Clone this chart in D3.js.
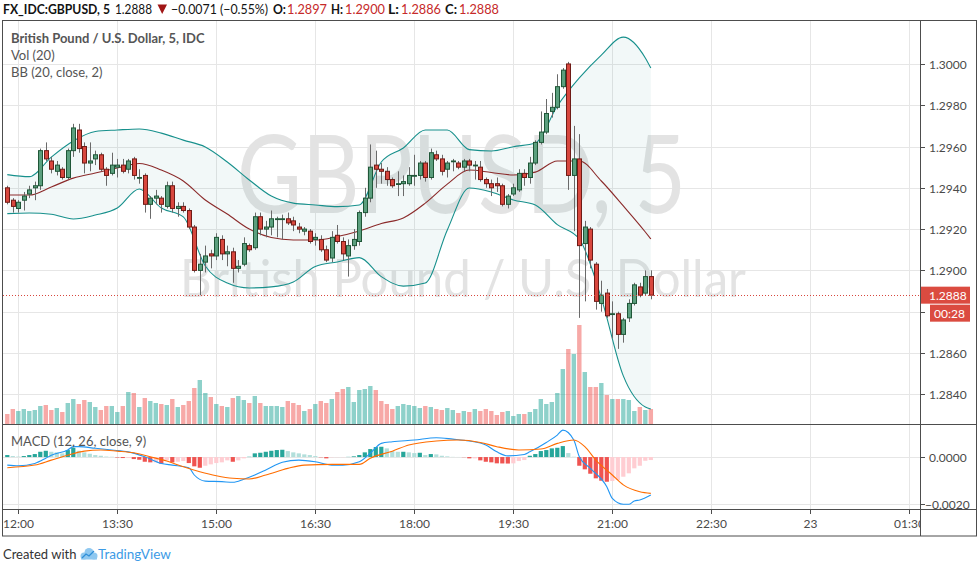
<!DOCTYPE html>
<html><head><meta charset="utf-8">
<script src="https://cdn.jsdelivr.net/npm/d3@7"></script>
<style>
html,body{margin:0;padding:0;background:#fff;}
svg{display:block;font-family:Lato,"Open Sans",sans-serif;}
</style></head><body>
<svg id="c" width="980" height="571"></svg>
<script>
// ---------------- DATA (5-minute bars, first bar 11:50) ----------------
const startMinute = -10;   // minutes relative to 12:00 of first bar
const barMinutes = 5;
const open = [1.2940,1.2934,1.2930,1.2934,1.2937,1.2940,1.2941,1.2958,1.2953,1.2948,1.2949,1.2945,1.2958,1.2968,1.2960,1.2952,1.2954,1.2956,1.2949,1.2947,1.2950,1.2951,1.2949,1.2954,1.2945,1.2946,1.2932,1.2935,1.2935,1.2931,1.2941,1.2930,1.2931,1.2929,1.2921,1.2900,1.2904,1.2908,1.2907,1.2915,1.2908,1.2909,1.2901,1.2903,1.2912,1.2911,1.2926,1.2920,1.2921,1.2925,1.2925,1.2925,1.2924,1.2921,1.2919,1.2919,1.2915,1.2915,1.2910,1.2906,1.2917,1.2914,1.2907,1.2912,1.2914,1.2928,1.2935,1.2951,1.2949,1.2948,1.2944,1.2942,1.2942,1.2942,1.2946,1.2946,1.2952,1.2945,1.2956,1.2954,1.2949,1.2953,1.2952,1.2950,1.2953,1.2951,1.2950,1.2944,1.2942,1.2942,1.2941,1.2932,1.2937,1.2939,1.2947,1.2945,1.2952,1.2962,1.2967,1.2977,1.2979,1.2989,1.3000,1.2946,1.2954,1.2913,1.2920,1.2903,1.2884,1.2889,1.2879,1.2879,1.2869,1.2877,1.2884,1.2892,1.2889,1.2897];
const high = [1.2941,1.2935,1.2934,1.2938,1.2941,1.2943,1.2959,1.2962,1.2955,1.2953,1.2950,1.2959,1.2971,1.2971,1.2962,1.2962,1.2958,1.2957,1.2950,1.2957,1.2954,1.2954,1.2954,1.2955,1.2949,1.2947,1.2936,1.2939,1.2936,1.2943,1.2943,1.2933,1.2933,1.2930,1.2922,1.2908,1.2912,1.2910,1.2918,1.2917,1.2912,1.2911,1.2905,1.2916,1.2913,1.2928,1.2928,1.2924,1.2929,1.2926,1.2927,1.2928,1.2926,1.2923,1.2921,1.2920,1.2918,1.2917,1.2912,1.2919,1.2922,1.2916,1.2915,1.2920,1.2929,1.2940,1.2961,1.2958,1.2952,1.2950,1.2945,1.2948,1.2946,1.2950,1.2956,1.2953,1.2953,1.2959,1.2958,1.2956,1.2953,1.2954,1.2953,1.2954,1.2954,1.2953,1.2953,1.2945,1.2944,1.2945,1.2942,1.2937,1.2942,1.2949,1.2949,1.2955,1.2963,1.2977,1.2983,1.2986,1.2995,1.2998,1.3001,1.2970,1.2966,1.2924,1.2921,1.2904,1.2895,1.2891,1.2885,1.2880,1.2877,1.2886,1.2894,1.2894,1.2900,1.2900];
const low = [1.2932,1.2928,1.2928,1.2929,1.2935,1.2934,1.2939,1.2953,1.2947,1.2946,1.2944,1.2944,1.2955,1.2957,1.2947,1.2948,1.2951,1.2948,1.2941,1.2946,1.2945,1.2947,1.2947,1.2944,1.2942,1.2928,1.2925,1.2932,1.2928,1.2930,1.2928,1.2926,1.2928,1.2920,1.2899,1.2888,1.2899,1.2901,1.2905,1.2905,1.2902,1.2894,1.2899,1.2902,1.2909,1.2910,1.2917,1.2916,1.2917,1.2916,1.2915,1.2922,1.2919,1.2918,1.2917,1.2913,1.2912,1.2909,1.2904,1.2904,1.2913,1.2905,1.2897,1.2910,1.2912,1.2926,1.2933,1.2940,1.2942,1.2941,1.2940,1.2936,1.2936,1.2941,1.2941,1.2944,1.2943,1.2944,1.2953,1.2946,1.2945,1.2948,1.2949,1.2948,1.2948,1.2944,1.2943,1.2940,1.2936,1.2938,1.2931,1.2930,1.2936,1.2938,1.2941,1.2942,1.2951,1.2961,1.2966,1.2974,1.2978,1.2988,1.2939,1.2919,1.2877,1.2885,1.2901,1.2881,1.2880,1.2877,1.2867,1.2862,1.2865,1.2875,1.2883,1.2887,1.2888,1.2886];
const close = [1.2933,1.2931,1.2933,1.2936,1.2939,1.2941,1.2958,1.2954,1.2949,1.2951,1.2945,1.2958,1.2969,1.2959,1.2952,1.2953,1.2956,1.2949,1.2946,1.2951,1.2951,1.2948,1.2953,1.2946,1.2945,1.2932,1.2935,1.2936,1.2932,1.2941,1.2930,1.2931,1.2929,1.2921,1.2900,1.2903,1.2907,1.2907,1.2916,1.2908,1.2909,1.2901,1.2902,1.2913,1.2910,1.2926,1.2920,1.2921,1.2925,1.2925,1.2925,1.2923,1.2922,1.2920,1.2920,1.2914,1.2916,1.2910,1.2905,1.2916,1.2914,1.2908,1.2912,1.2915,1.2928,1.2935,1.2950,1.2949,1.2948,1.2944,1.2941,1.2942,1.2943,1.2946,1.2946,1.2952,1.2945,1.2957,1.2954,1.2948,1.2952,1.2953,1.2950,1.2953,1.2951,1.2951,1.2944,1.2942,1.2940,1.2941,1.2932,1.2936,1.2940,1.2947,1.2945,1.2952,1.2962,1.2967,1.2976,1.2979,1.2989,1.2997,1.2946,1.2954,1.2912,1.2921,1.2905,1.2885,1.2888,1.2878,1.2879,1.2869,1.2876,1.2884,1.2893,1.2888,1.2897,1.2888];
const volume = [10,15,13,15,13,14,18,19,14,16,12,21,25,20,24,22,17,14,18,18,12,18,32,31,17,26,23,21,20,19,25,17,19,23,36,44,31,27,20,18,17,26,28,24,21,28,21,18,18,18,17,23,21,19,13,15,20,23,21,25,32,35,37,22,34,35,38,34,23,20,15,18,20,19,18,16,18,17,15,14,16,14,11,13,12,15,13,15,13,9,12,13,8,10,10,12,15,25,20,22,31,55,75,70,99,52,37,37,41,29,25,25,25,24,13,17,14,15];
const macdHist = [0.000085,0.000042,0.000021,0.000042,0.000085,0.000127,0.000224,0.000266,0.000224,0.000199,0.000157,0.000296,0.000393,0.000266,0.000199,0.000140,0.000085,0.000055,0.000021,0.000013,-0.000021,-0.000042,-0.000042,-0.000085,-0.000114,-0.000199,-0.000224,-0.000224,-0.000283,-0.000140,-0.000224,-0.000199,-0.000169,-0.000254,-0.000393,-0.000453,-0.000368,-0.000309,-0.000254,-0.000224,-0.000140,-0.000199,-0.000140,-0.000055,0.000013,0.000157,0.000182,0.000224,0.000266,0.000296,0.000309,0.000254,0.000199,0.000157,0.000114,0.000085,0.000042,-0.000013,-0.000055,-0.000013,-0.000008,-0.000008,0.000008,0.000030,0.000085,0.000199,0.000338,0.000423,0.000436,0.000368,0.000254,0.000224,0.000224,0.000199,0.000169,0.000182,0.000085,0.000127,0.000114,0.000055,0.000030,0.000008,0.000004,-0.000008,-0.000055,-0.000055,-0.000140,-0.000199,-0.000224,-0.000266,-0.000271,-0.000275,-0.000266,-0.000169,-0.000127,0.000055,0.000127,0.000254,0.000296,0.000368,0.000393,0.000465,0.000169,0.000013,-0.000368,-0.000520,-0.000706,-0.000901,-0.001003,-0.001045,-0.001015,-0.000973,-0.000833,-0.000689,-0.000478,-0.000368,-0.000157,-0.000127];
// Bollinger Bands (20, close, 2) read at sampled bars (bar index from 12:00)
const bbBar = [-2,2,6,10,14,18,22,26,30,34,38,42,46,50,54,58,62,66,70,74,78,82,86,90,94,98,102,106,110,114,115];
const bbUpper = [1.29464,1.29454,1.29549,1.29627,1.29673,1.29680,1.29685,1.29665,1.29631,1.29598,1.29525,1.29438,1.29360,1.29326,1.29317,1.29309,1.29317,1.29525,1.29593,1.29680,1.29680,1.29585,1.29578,1.29599,1.29617,1.29796,1.29932,1.30043,1.30130,1.30029,1.29980];
const bbBasis = [1.29365,1.29365,1.29404,1.29447,1.29472,1.29496,1.29518,1.29486,1.29433,1.29341,1.29273,1.29200,1.29159,1.29147,1.29147,1.29164,1.29191,1.29227,1.29254,1.29326,1.29418,1.29486,1.29474,1.29462,1.29476,1.29530,1.29530,1.29433,1.29312,1.29186,1.29152];
const bbLower = [1.29275,1.29278,1.29272,1.29249,1.29268,1.29302,1.29394,1.29302,1.29259,1.29021,1.28939,1.28915,1.28920,1.28944,1.29019,1.29041,1.29062,1.28970,1.28924,1.28939,1.29196,1.29399,1.29380,1.29341,1.29317,1.29222,1.29152,1.28866,1.28489,1.28338,1.28329];
// MACD (12, 26, close, 9) lines read at sampled bars
const macdBar = [-2,0,3,5,6,9,10,11,14,17,20,23,26,28,31,32,34,37,39,41,43,45,48,51,54,57,59,62,64,66,68,72,76,79,82,85,87,89,92,93,96,98,99,101,102,104,107,108,110,111,112,113,115];
const macdLine = [-0.00034,-0.00037,-0.00027,-0.00005,0.00008,0.00030,0.00044,0.00044,0.00037,0.00030,0.00022,0.00001,-0.00027,-0.00034,-0.00045,-0.00076,-0.00102,-0.00104,-0.00107,-0.00094,-0.00076,-0.00055,-0.00022,-0.00013,-0.00020,-0.00034,-0.00034,-0.00020,0.00016,0.00058,0.00065,0.00072,0.00082,0.00076,0.00068,0.00051,0.00022,0.00005,0.00011,0.00022,0.00062,0.00093,0.00114,0.00072,0.00001,-0.00048,-0.00126,-0.00175,-0.00200,-0.00200,-0.00186,-0.00182,-0.00161];
const signalBar = [-2,3,6,9,12,15,18,21,24,27,30,33,36,39,42,45,49,52,57,62,64,68,71,76,80,84,87,91,95,98,101,103,105,108,110,113,115];
const signalLine = [-0.00045,-0.00034,-0.00013,0.00008,0.00025,0.00030,0.00025,0.00018,0.00001,-0.00017,-0.00041,-0.00062,-0.00079,-0.00090,-0.00093,-0.00076,-0.00048,-0.00034,-0.00031,-0.00031,-0.00005,0.00025,0.00051,0.00068,0.00072,0.00062,0.00044,0.00030,0.00034,0.00058,0.00072,0.00044,-0.00013,-0.00076,-0.00118,-0.00147,-0.00154];
// axes
const priceTicks = [1.2840,1.2860,1.2880,1.2900,1.2920,1.2940,1.2960,1.2980,1.3000];
const macdTicks = [0, -0.002];
const timeTickMinutes = [0,90,180,270,360,450,540,630,720,810];
const timeTickLabels = ["12:00","13:30","15:00","16:30","18:00","19:30","21:00","22:30","23","01:30"];
const lastPrice = 1.2888;
const countdown = "00:28";

// ---------------- LAYOUT ----------------
const L = 3, R = 920, AR = 976.5, T = 21, MB = 424, DB = 509, XB = 536;
const svg = d3.select("#c");
const x = d3.scaleLinear().domain([-13.9, 819.7]).range([L, R]);
const y = d3.scaleLinear().domain([1.28256, 1.30208]).range([MB, T]);
const yV = d3.scaleLinear().domain([0, 100]).range([MB, MB - 100]);
const yM = d3.scaleLinear().domain([-0.0022, 0.0014]).range([DB, MB]);
const barMin = k => startMinute + k * barMinutes;       // k = array index
const idxMin = b => b * barMinutes;                    // b = bar index from 12:00

const defs = svg.append("defs");
defs.append("clipPath").attr("id","cm").append("rect").attr("x",L).attr("y",T).attr("width",R-L).attr("height",MB-T);
defs.append("clipPath").attr("id","cd").append("rect").attr("x",L).attr("y",MB).attr("width",R-L).attr("height",DB-MB);
defs.append("clipPath").attr("id","ct").append("rect").attr("x",L).attr("y",DB).attr("width",R-L).attr("height",XB-DB);

const gridC = "#e6e6e6";
const gm = svg.append("g").attr("clip-path","url(#cm)");
const gd = svg.append("g").attr("clip-path","url(#cd)");
timeTickMinutes.forEach(m=>{
  const xx = Math.round(x(m))+0.5;
  gm.append("line").attr("x1",xx).attr("x2",xx).attr("y1",T).attr("y2",MB).attr("stroke",gridC);
  gd.append("line").attr("x1",xx).attr("x2",xx).attr("y1",MB).attr("y2",DB).attr("stroke",gridC);
});
priceTicks.forEach(p=>{
  const yy = Math.round(y(p))+0.5;
  gm.append("line").attr("x1",L).attr("x2",R).attr("y1",yy).attr("y2",yy).attr("stroke",gridC);
});
macdTicks.forEach(v=>{
  const yy = Math.round(yM(v))+0.5;
  gd.append("line").attr("x1",L).attr("x2",R).attr("y1",yy).attr("y2",yy).attr("stroke",gridC);
});

// watermark
gm.append("text").attr("x",237).attr("y",213).attr("font-size",108).attr("fill","#e3e3e3")
  .attr("textLength",449).attr("lengthAdjust","spacingAndGlyphs").text("GBPUSD, 5");
gm.append("text").attr("x",180).attr("y",297).attr("font-size",52).attr("fill","#e3e3e3")
  .attr("textLength",566).attr("lengthAdjust","spacingAndGlyphs").text("British Pound / U.S. Dollar");

// BB fill
const bbPts = bbBar.map((b,k)=>({b, u:bbUpper[k], m:bbBasis[k], l:bbLower[k]}));
gm.append("path").datum(bbPts)
  .attr("d", d3.area().x(d=>x(idxMin(d.b))).y0(d=>y(d.l)).y1(d=>y(d.u)).curve(d3.curveMonotoneX))
  .attr("fill","rgba(19,132,132,0.055)");

// volume
const bars = open.map((o,k)=>({k, o, h:high[k], l:low[k], c:close[k], v:volume[k], hist:macdHist[k], up: close[k] >= o}));
gm.selectAll("rect.vol").data(bars).enter().append("rect").attr("class","vol")
  .attr("x", d=>x(barMin(d.k))-2.2).attr("width",4.4)
  .attr("y", d=>yV(d.v)).attr("height", d=>MB - yV(d.v))
  .attr("fill", d=> d.up ? "rgba(38,166,154,0.52)" : "rgba(239,83,80,0.5)");

// BB lines
const lineOf = f => d3.line().x(d=>x(idxMin(d.b))).y(d=>y(f(d))).curve(d3.curveMonotoneX);
gm.append("path").datum(bbPts).attr("d", lineOf(d=>d.u)).attr("fill","none").attr("stroke","#17908c").attr("stroke-width",1.1);
gm.append("path").datum(bbPts).attr("d", lineOf(d=>d.l)).attr("fill","none").attr("stroke","#17908c").attr("stroke-width",1.1);
gm.append("path").datum(bbPts).attr("d", lineOf(d=>d.m)).attr("fill","none").attr("stroke","#8b2a2a").attr("stroke-width",1.1);

// candles
const cg = gm.append("g");
cg.selectAll("line.w").data(bars).enter().append("line")
  .attr("x1", d=>Math.round(x(barMin(d.k)))+0.5).attr("x2", d=>Math.round(x(barMin(d.k)))+0.5)
  .attr("y1", d=>y(d.h)).attr("y2", d=>y(d.l)).attr("stroke","#6a6a6a").attr("stroke-width",1);
cg.selectAll("rect.b").data(bars).enter().append("rect")
  .attr("x", d=>Math.round(x(barMin(d.k)))-1.5).attr("width",4)
  .attr("y", d=>Math.min(y(d.o),y(d.c)))
  .attr("height", d=>Math.max(0.8, Math.abs(y(d.o)-y(d.c))))
  .attr("fill", d=> d.up ? "#5b9f7e" : "#d8473e")
  .attr("stroke", d=> d.up ? "#1f5637" : "#6e1b16").attr("stroke-width",1);

// last price dotted line
gm.append("line").attr("x1",L).attr("x2",R).attr("y1",Math.round(y(lastPrice))+0.5).attr("y2",Math.round(y(lastPrice))+0.5)
  .attr("stroke","#d8473e").attr("stroke-dasharray","1,2");

// MACD histogram
const histColor = (d,k)=>{
  const prev = k>0 ? macdHist[k-1] : d.hist;
  if (d.hist >= 0) return d.hist >= prev ? "#26a69a" : "#b2dfdb";
  return d.hist < prev ? "#ef5350" : "#ffcdd2";
};
gd.selectAll("rect.h").data(bars).enter().append("rect")
  .attr("x", d=>x(barMin(d.k))-2.1).attr("width",4.2)
  .attr("y", d=>Math.min(yM(0), yM(d.hist)))
  .attr("height", d=>Math.abs(yM(d.hist)-yM(0)))
  .attr("fill", histColor);
const mPts = macdBar.map((b,k)=>({b, v:macdLine[k]}));
const sPts = signalBar.map((b,k)=>({b, v:signalLine[k]}));
const ml = d3.line().x(d=>x(idxMin(d.b))).y(d=>yM(d.v)).curve(d3.curveMonotoneX);
gd.append("path").datum(mPts).attr("d", ml).attr("fill","none").attr("stroke","#2196f3").attr("stroke-width",1.1);
gd.append("path").datum(sPts).attr("d", ml).attr("fill","none").attr("stroke","#ff6d00").attr("stroke-width",1.1);

// frame
const frameC = "#4d4d4d";
svg.append("rect").attr("x",2.5).attr("y",T-0.5).attr("width",AR-2.5).attr("height",XB-T+0.5).attr("fill","none").attr("stroke",frameC);
svg.append("line").attr("x1",R+0.5).attr("x2",R+0.5).attr("y1",T).attr("y2",XB).attr("stroke",frameC);
svg.append("line").attr("x1",2.5).attr("x2",AR).attr("y1",MB+0.5).attr("y2",MB+0.5).attr("stroke",frameC);
svg.append("line").attr("x1",2.5).attr("x2",AR).attr("y1",DB+0.5).attr("y2",DB+0.5).attr("stroke",frameC);

// price axis (labels hidden where the last-price badges sit, as in TradingView)
const txtC = "#4a4a4a";
const ly = y(lastPrice);
priceTicks.forEach(p=>{
  const yy = Math.round(y(p))+0.5;
  svg.append("line").attr("x1",R).attr("x2",R+5).attr("y1",yy).attr("y2",yy).attr("stroke",frameC);
  if (Math.abs(yy - ly) > 30 || yy < ly - 12)
    svg.append("text").attr("x",929).attr("y",yy+4.5).attr("font-size",12).attr("fill",txtC).text(p.toFixed(4));
});
macdTicks.forEach(v=>{
  const yy = Math.round(yM(v))+0.5;
  svg.append("line").attr("x1",R).attr("x2",R+5).attr("y1",yy).attr("y2",yy).attr("stroke",frameC);
  svg.append("text").attr("x", v<0 ? 925 : 929).attr("y",yy+4.5).attr("font-size",12).attr("fill",txtC)
    .text(v<0 ? "\u2212" + Math.abs(v).toFixed(4) : v.toFixed(4));
});
// last price label + countdown
svg.append("rect").attr("x",R+1).attr("y",ly-8.5).attr("width",49).attr("height",17).attr("fill","#db4b40");
svg.append("text").attr("x",929).attr("y",ly+4.5).attr("font-size",12).attr("fill","#fff").text(lastPrice.toFixed(4));
svg.append("rect").attr("x",930).attr("y",ly+9.5).attr("width",40).attr("height",17).attr("fill","#db4b40");
svg.append("text").attr("x",934).attr("y",ly+22.5).attr("font-size",12).attr("fill","#fff").text(countdown);

// time axis
const gt = svg.append("g").attr("clip-path","url(#ct)");
timeTickMinutes.forEach((m,k)=>{
  const xx = Math.round(x(m))+0.5;
  gt.append("line").attr("x1",xx).attr("x2",xx).attr("y1",DB).attr("y2",DB+5).attr("stroke",frameC);
  gt.append("text").attr("x",xx).attr("y",528).attr("text-anchor","middle").attr("font-size",12).attr("fill",txtC).text(timeTickLabels[k]);
});

// legends
svg.append("text").attr("x",11).attr("y",43).attr("font-size",13).attr("font-weight","bold").attr("fill","#555").text("British Pound / U.S. Dollar, 5, IDC");
svg.append("text").attr("x",11).attr("y",60).attr("font-size",13).attr("fill","#555").text("Vol (20)");
svg.append("text").attr("x",11).attr("y",77).attr("font-size",13).attr("fill","#555").text("BB (20, close, 2)");
svg.append("text").attr("x",11).attr("y",446).attr("font-size",13).attr("fill","#555").text("MACD (12, 26, close, 9)");

// header
const hdr = [
  {t:"FX_IDC:GBPUSD, 5", x:3, w:107, b:true, c:"#131313"},
  {t:"1.2888", x:115, w:37, b:false, c:"#131313"},
  {t:"\u22120.0071 (\u22120.55%)", x:171, w:97, b:false, c:"#131313"},
  {t:"O:", x:273, w:13, b:true, c:"#131313"},
  {t:"1.2897", x:287, w:40, b:false, c:"#c62a2a"},
  {t:"H:", x:331, w:12, b:true, c:"#131313"},
  {t:"1.2900", x:345, w:40, b:false, c:"#c62a2a"},
  {t:"L:", x:388, w:11, b:true, c:"#131313"},
  {t:"1.2886", x:401, w:40, b:false, c:"#c62a2a"},
  {t:"C:", x:445, w:12, b:true, c:"#131313"},
  {t:"1.2888", x:459, w:40, b:false, c:"#c62a2a"}
];
hdr.forEach(h=>{
  svg.append("text").attr("x",h.x).attr("y",14).attr("font-size",13).attr("font-weight",h.b?"bold":"normal")
    .attr("fill",h.c).attr("textLength",h.w).attr("lengthAdjust","spacingAndGlyphs").text(h.t);
});
svg.append("path").attr("d","M157.5,4.5 L167,4.5 L162.2,14 Z").attr("fill","#a01616");

// footer
svg.append("text").attr("x",3).attr("y",559).attr("font-size",13).attr("fill","#333").text("Created with");
const logo = svg.append("g").attr("fill","#8fc8f0");
logo.append("circle").attr("cx",84).attr("cy",556).attr("r",3.5);
logo.append("circle").attr("cx",89).attr("cy",552.5).attr("r",4.5);
logo.append("circle").attr("cx",94).attr("cy",556).attr("r",3.5);
logo.append("rect").attr("x",81).attr("y",556).attr("width",16).attr("height",3.5);
svg.append("path").attr("d","M82,558 L86,554 L89,556 L94,551").attr("fill","none").attr("stroke","#2f8fd8").attr("stroke-width",1.3);
svg.append("text").attr("x",98).attr("y",559).attr("font-size",13.5).attr("fill","#3c9be6").text("TradingView");
</script>
</body></html>
